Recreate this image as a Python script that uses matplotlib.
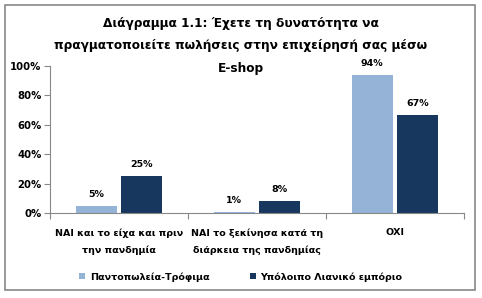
import matplotlib
matplotlib.use("Agg")
import matplotlib.pyplot as plt
from matplotlib.patches import Rectangle
import numpy as np

categories = ["ΝΑΙ και το είχα και πριν\nτην πανδημία",
              "ΝΑΙ το ξεκίνησα κατά τη\nδιάρκεια της πανδημίας",
              "ΟΧΙ"]
series_names = ["Παντοπωλεία-Τρόφιμα", "Υπόλοιπο Λιανικό εμπόριο"]
grocery = [5, 1, 94]
retail = [25, 8, 67]
yticks = [0, 20, 40, 60, 80, 100]
title_lines = ["Διάγραμμα 1.1: Έχετε τη δυνατότητα να",
               "πραγματοποιείτε πωλήσεις στην επιχείρησή σας μέσω",
               "E-shop"]
colors = ["#95B3D7", "#17375E"]

plt.rcParams['font.family'] = ['DejaVu Sans']
fig = plt.figure(figsize=(4.82, 2.98), dpi=100)
fig.patches.append(Rectangle((5/482, 8/298), 470/482, 285/298, transform=fig.transFigure,
                             fill=False, edgecolor="#888888", linewidth=1.2))
ax = fig.add_axes([50/482, 85/298, 414/482, 147/298])

x = np.arange(len(categories))
w = 0.30
gap = 0.015
b1 = ax.bar(x - w/2 - gap, grocery, w, color=colors[0], label=series_names[0])
b2 = ax.bar(x + w/2 + gap, retail, w, color=colors[1], label=series_names[1])
for bars, vals in ((b1, grocery), (b2, retail)):
    for r, v in zip(bars, vals):
        ax.annotate(f"{v}%", (r.get_x() + r.get_width()/2, v), xytext=(0, 5),
                    textcoords="offset points", ha="center", va="bottom",
                    fontsize=6.8, fontweight="bold")

ax.set_xlim(-0.5, 2.5)
ax.set_ylim(0, 100)
ax.set_yticks(yticks)
ax.set_yticklabels([f"{t}%" for t in yticks], fontsize=7.3, fontweight="bold")
ax.set_xticks([-0.5, 0.5, 1.5, 2.5], minor=False)
ax.set_xticklabels([])
ax.set_xticks(x, minor=True)
ax.set_xticklabels(categories, minor=True, fontsize=6.8, fontweight="bold", linespacing=2.0)
ax.tick_params(axis="x", which="minor", length=0, pad=11)
ax.tick_params(axis="x", which="major", length=4, color="#888888")
ax.tick_params(axis="y", length=4, color="#888888", pad=2)
for s in ("top", "right"):
    ax.spines[s].set_visible(False)
for s in ("left", "bottom"):
    ax.spines[s].set_color("#888888")

for i, line in enumerate(title_lines):
    fig.text(0.5, 1 - (23 + 23 * i) / 298, line, ha="center", va="center",
             fontsize=8.7, fontweight="bold")

leg = fig.legend(handles=[b1, b2], labels=series_names, loc="center", bbox_to_anchor=(0.5, 21/298),
                 ncol=2, frameon=False, fontsize=6.8, handlelength=0.6, handleheight=0.6,
                 columnspacing=4.3, handletextpad=0.5)
for t in leg.get_texts():
    t.set_fontweight("bold")

fig.savefig("out.png", dpi=100)
